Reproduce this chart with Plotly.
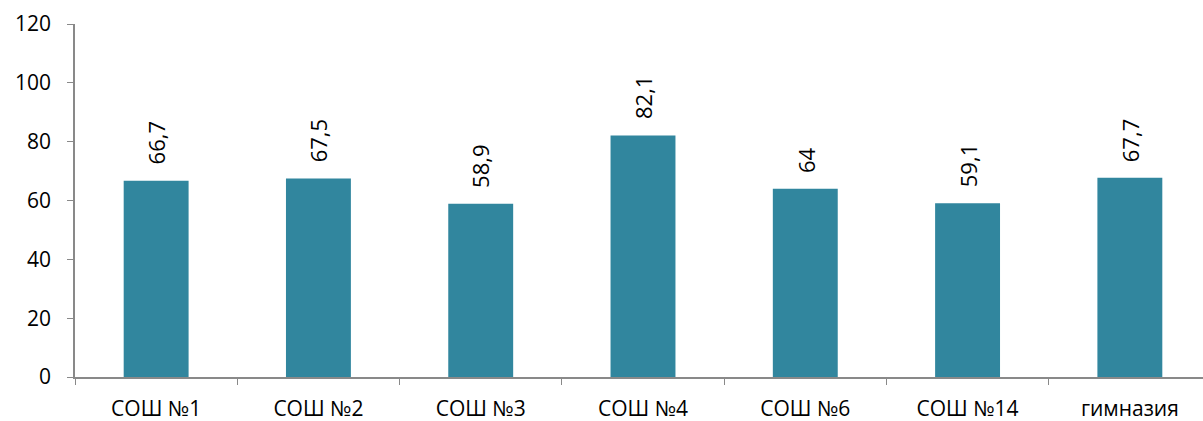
import plotly.graph_objects as go

categories = ["СОШ №1", "СОШ №2", "СОШ №3", "СОШ №4", "СОШ №6", "СОШ №14", "гимназия"]
values = [66.7, 67.5, 58.9, 82.1, 64, 59.1, 67.7]
labels = ["66,7", "67,5", "58,9", "82,1", "64", "59,1", "67,7"]
y_ticks = [0, 20, 40, 60, 80, 100, 120]

bar_color = "#31869E"
axis_color = "#898989"
font_family = "Open Sans, Liberation Sans, sans-serif"

fig = go.Figure()
fig.add_trace(go.Bar(
    x=categories, y=values, marker=dict(color=bar_color, line=dict(width=0)),
    width=0.4, hoverinfo="x+y",
))

for c, v, t in zip(categories, values, labels):
    fig.add_annotation(
        x=c, y=v, text=t, textangle=-90, showarrow=False,
        xanchor="center", yanchor="bottom", yshift=14,
        font=dict(family=font_family, size=22, color="#000000"),
    )

fig.update_layout(
    width=1211, height=421,
    margin=dict(l=75, r=0, t=24, b=44, autoexpand=False),
    plot_bgcolor="white", paper_bgcolor="white",
    showlegend=False,
    font=dict(family=font_family, color="#000000"),
    xaxis=dict(
        type="category", showline=True, linecolor=axis_color, linewidth=1.5,
        ticks="outside", tickson="boundaries", ticklen=6, tickcolor=axis_color,
        tickfont=dict(size=21, color="#000000"), showgrid=False,
        automargin=False, ticklabelstandoff=12,
    ),
    yaxis=dict(
        range=[0, 120], tickvals=y_ticks, showline=True, linecolor=axis_color,
        linewidth=1.5, ticks="outside", ticklen=6, tickcolor=axis_color,
        tickfont=dict(size=21, color="#000000"), showgrid=False, zeroline=False,
        ticklabelstandoff=12, automargin=False,
    ),
    bargap=0.6,
)

fig.write_html(
    "out.html",
    config={"displayModeBar": False},
    post_script="document.body.style.margin='0';document.body.style.overflow='hidden';",
)
